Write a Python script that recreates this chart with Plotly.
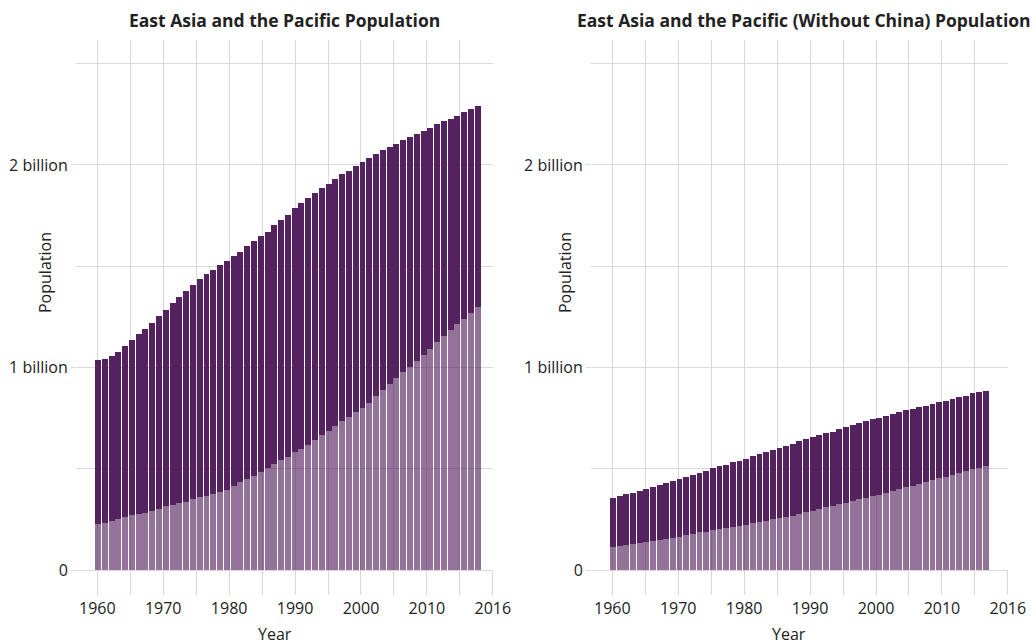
from typing import List

import plotly.graph_objects as go

YEARS = list(range(1960, 2017))

# billions
EAP_TOTAL = [
    1.037, 1.042, 1.057, 1.077, 1.106, 1.136, 1.165, 1.190, 1.220, 1.254,
    1.284, 1.318, 1.348, 1.378, 1.407, 1.437, 1.462, 1.481, 1.506, 1.526,
    1.551, 1.570, 1.600, 1.625, 1.649, 1.669, 1.704, 1.728, 1.753, 1.788,
    1.812, 1.837, 1.862, 1.886, 1.906, 1.931, 1.956, 1.970, 1.995, 2.015,
    2.035, 2.054, 2.074, 2.089, 2.104, 2.123, 2.138, 2.153, 2.168, 2.183,
    2.202, 2.217, 2.227, 2.242, 2.262, 2.277, 2.291,
]
EAP_URBAN = [
    0.227, 0.232, 0.242, 0.252, 0.262, 0.272, 0.277, 0.282, 0.292, 0.301,
    0.316, 0.321, 0.331, 0.336, 0.351, 0.361, 0.366, 0.376, 0.385, 0.395,
    0.415, 0.435, 0.450, 0.464, 0.484, 0.504, 0.523, 0.543, 0.558, 0.583,
    0.598, 0.617, 0.642, 0.667, 0.686, 0.711, 0.736, 0.756, 0.780, 0.800,
    0.825, 0.859, 0.889, 0.918, 0.948, 0.978, 1.002, 1.032, 1.062, 1.091,
    1.126, 1.156, 1.185, 1.215, 1.239, 1.269, 1.299,
]
NO_CHINA_TOTAL = [
    0.356, 0.365, 0.375, 0.380, 0.390, 0.400, 0.410, 0.420, 0.430, 0.440,
    0.449, 0.459, 0.469, 0.479, 0.489, 0.504, 0.514, 0.519, 0.533, 0.538,
    0.548, 0.563, 0.573, 0.583, 0.593, 0.602, 0.612, 0.622, 0.637, 0.647,
    0.657, 0.667, 0.677, 0.681, 0.696, 0.706, 0.716, 0.726, 0.736, 0.746,
    0.751, 0.760, 0.770, 0.780, 0.790, 0.795, 0.805, 0.810, 0.820, 0.830,
    0.835, 0.844, 0.854, 0.859, 0.874, 0.879, 0.884,
]
NO_CHINA_URBAN = [
    0.114, 0.119, 0.124, 0.128, 0.133, 0.138, 0.143, 0.148, 0.153, 0.158,
    0.163, 0.173, 0.178, 0.188, 0.188, 0.198, 0.202, 0.207, 0.212, 0.217,
    0.222, 0.232, 0.237, 0.242, 0.252, 0.257, 0.262, 0.267, 0.277, 0.286,
    0.291, 0.301, 0.311, 0.316, 0.326, 0.331, 0.341, 0.351, 0.356, 0.365,
    0.370, 0.380, 0.390, 0.400, 0.410, 0.415, 0.425, 0.435, 0.444, 0.454,
    0.459, 0.469, 0.479, 0.489, 0.499, 0.504, 0.514,
]

# year gridlines every 5 years; the last one closes the axis and carries "2016"
X_TICK_TEXT = ["1960", "", "1970", "", "1980", "", "1990", "", "2000", "", "2010", "", "2016"]
Y_TICKS = [0, 1, 2]
Y_TICK_TEXT = ["0", "1 billion", "2 billion"]
Y_MINOR = [0.5, 1.5, 2.5]

TITLES = [
    "East Asia and the Pacific Population",
    "East Asia and the Pacific (Without China) Population",
]

DARK = "#54225f"
LIGHT = "rgba(84,34,95,0.63)"
GRID = "#d9d9d9"
INK = "#222222"
FONT = "Open Sans"

W, H = 1036, 644
TOP, BOTTOM = 40, 74


def add_bars(*, fig: go.Figure, xaxis: str, yaxis: str, total: List[float], urban: List[float]) -> go.Figure:
    rural = [t - u for t, u in zip(total, urban)]
    fig.add_trace(go.Bar(
        name="Urban", x=YEARS, y=urban, xaxis=xaxis, yaxis=yaxis,
        marker_color=LIGHT, marker_line_width=0, showlegend=False,
    ))
    fig.add_trace(go.Bar(
        name="Rural", x=YEARS, y=rural, xaxis=xaxis, yaxis=yaxis,
        marker_color=DARK, marker_line_width=0, showlegend=False,
    ))
    return fig


def xaxis(domain, anchor, rng, tick0, step):
    # the bars in the source run a touch wider than its year grid,
    # so the grid ticks are spaced in bar-axis units
    tickvals = [tick0 + step * k for k in range(len(X_TICK_TEXT))]
    return dict(
        domain=domain, anchor=anchor, range=rng, automargin=False,
        tickmode="array", tickvals=tickvals, ticktext=X_TICK_TEXT,
        ticks="outside", ticklen=24, tickcolor=GRID,
        showgrid=True, gridcolor=GRID, zeroline=False, showline=False,
        tickfont=dict(size=16, color=INK),
    )


def yaxis(anchor):
    return dict(
        anchor=anchor, range=[0, 2.617], automargin=False,
        tickmode="array", tickvals=Y_TICKS, ticktext=Y_TICK_TEXT,
        ticks="outside", ticklen=4, tickcolor=GRID,
        showgrid=True, gridcolor=GRID,
        minor=dict(tickvals=Y_MINOR, showgrid=True, gridcolor=GRID, ticks=""),
        zeroline=True, zerolinecolor=GRID, zerolinewidth=1,
        tickfont=dict(size=16, color=INK),
    )


fig = go.Figure()
add_bars(fig=fig, xaxis="x", yaxis="y", total=EAP_TOTAL, urban=EAP_URBAN)
add_bars(fig=fig, xaxis="x2", yaxis="y2", total=NO_CHINA_TOTAL, urban=NO_CHINA_URBAN)

plot_h = H - TOP - BOTTOM


def py(px):
    # pixel row -> paper y
    return (H - BOTTOM - px) / plot_h


annotations = []
for title, cx in zip(TITLES, [284, 804]):
    annotations.append(dict(
        text=f"<b>{title}</b>", x=cx / W, y=py(20), xref="paper", yref="paper",
        showarrow=False, xanchor="center", yanchor="middle",
        font=dict(size=17.5, color=INK, family=FONT),
    ))
for cx in [275, 789]:
    annotations.append(dict(
        text="Year", x=cx / W, y=py(634), xref="paper", yref="paper",
        showarrow=False, xanchor="center", yanchor="middle",
        font=dict(size=16, color=INK, family=FONT),
    ))
for cx in [45, 565]:
    annotations.append(dict(
        text="Population", x=cx / W, y=py(273), xref="paper", yref="paper",
        showarrow=False, xanchor="center", yanchor="middle", textangle=-90,
        font=dict(size=16, color=INK, family=FONT),
    ))

fig.update_layout(
    width=W, height=H, autosize=False,
    margin=dict(l=0, r=0, t=TOP, b=BOTTOM, autoexpand=False),
    paper_bgcolor="white", plot_bgcolor="white",
    font=dict(family=FONT, color=INK),
    barmode="stack", bargap=0.12,
    xaxis=xaxis([76 / W, 493 / W], "y", [1956.758, 2018.24], 1959.897, 4.860),
    xaxis2=xaxis([591 / W, 1008 / W], "y2", [1956.70, 2019.33], 1959.898, 4.951),
    yaxis=yaxis("x"),
    yaxis2=yaxis("x2"),
    annotations=annotations,
    showlegend=False,
)

# no page margin and no scrollbar, so the 1036px figure fills the window
page_css = (
    "document.documentElement.style.overflow = 'hidden';"
    "document.body.style.overflow = 'hidden';"
    "document.body.style.margin = '0';"
)

fig.write_html(
    "out.html",
    config={"responsive": False, "displayModeBar": False},
    default_width=f"{W}px",
    default_height=f"{H}px",
    post_script=page_css,
)
